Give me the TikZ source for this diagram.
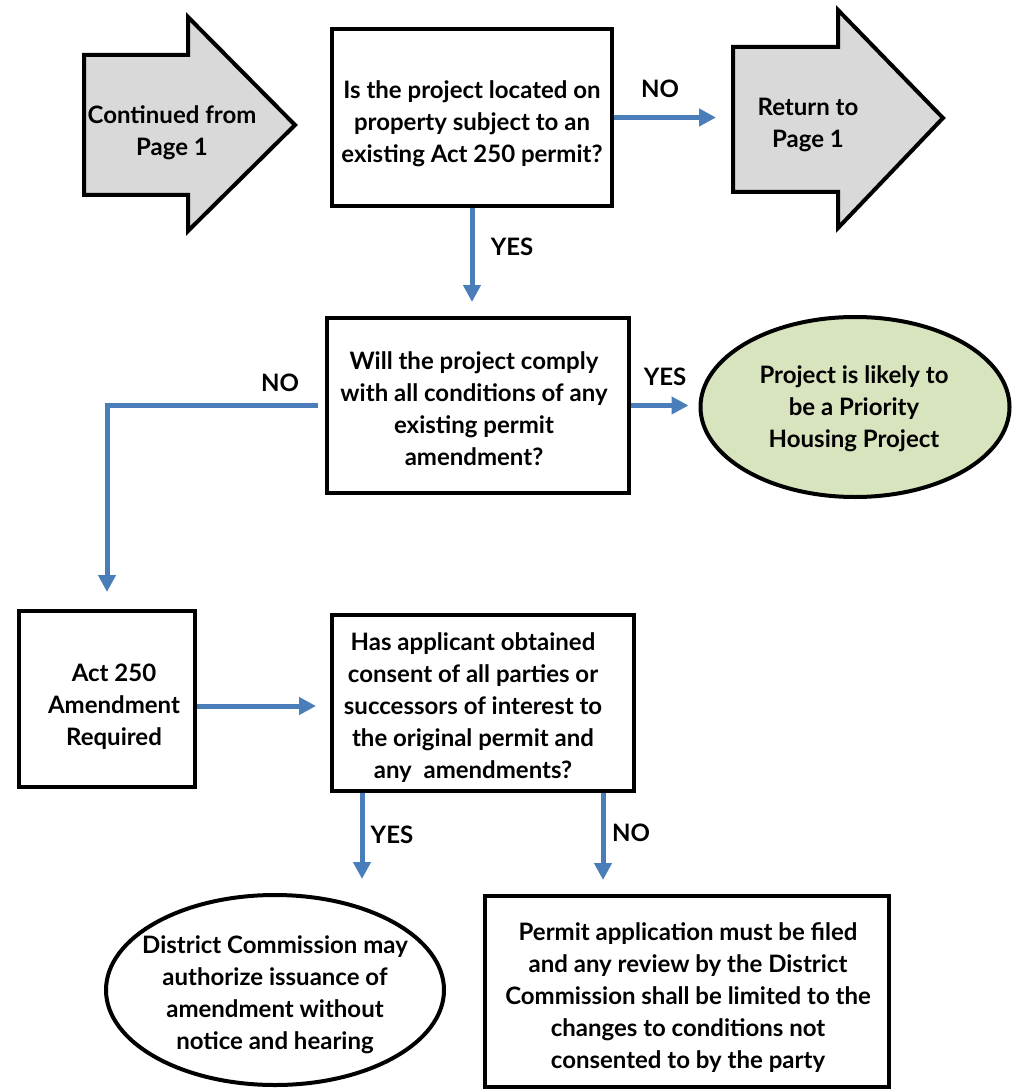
\documentclass[tikz,border=0pt]{standalone}
\usepackage{fontspec}
\setmainfont{Lato}
\usetikzlibrary{arrows.meta,shapes.geometric}
\definecolor{flowblue}{RGB}{74,126,187}
\definecolor{shapegray}{RGB}{217,217,217}
\definecolor{okgreen}{RGB}{215,228,189}
\tikzset{
  box/.style={draw=black, line width=4pt, fill=white, inner sep=0pt},
  oval/.style={ellipse, draw=black, line width=4pt, inner sep=0pt},
  bigarrow/.style={draw=black, line width=4pt, fill=shapegray, line join=miter},
  txt/.style={align=center, inner sep=0pt, yshift=-2pt, font=\fontsize{24}{32}\selectfont\bfseries},
  lbl/.style={inner sep=0pt, yshift=-1pt, font=\fontsize{24}{26}\selectfont\bfseries},
  flow/.style={draw=flowblue, line width=5pt, -{Triangle[length=17pt,width=17pt]}}
}
\begin{document}
\begin{tikzpicture}[x=1pt,y=-1pt]
\useasboundingbox (0,0) rectangle (1017,1091);
% big arrow shapes
\draw[bigarrow] (84,55) -- (188,55) -- (188,17) -- (295,125) -- (188,231) -- (188,195) -- (84,195) -- cycle;
\node[txt] (cont) at (172,131) {Continued from\\Page 1};
\draw[bigarrow] (733,47) -- (838,47) -- (838,10) -- (943,118) -- (838,228) -- (838,192) -- (733,192) -- cycle;
\coordinate (retw) at (731,117.5);
\node[txt] (ret) at (808,123) {Return to\\Page 1};
% boxes
\node[box, minimum width=280pt, minimum height=177pt] (b1) at (472,117.5) {};
\node[txt] (t1) at (472,122) {Is the project located on\\property subject to an\\existing Act 250 permit?};
\node[box, minimum width=302pt, minimum height=175pt] (b2) at (478,405.5) {};
\node[txt] (t2) at (474,407) {Will the project comply\\with all conditions of any\\existing permit\\amendment?};
\node[oval, fill=okgreen, minimum width=309pt, minimum height=180pt] (e1) at (855,407) {};
\node[txt] (t3) at (854,407) {Project is likely to\\be a Priority\\Housing Project};
\node[box, minimum width=176pt, minimum height=176pt] (b3) at (107,699) {};
\node[txt] (t4) at (114,705) {Act 250\\Amendment\\Required};
\node[box, minimum width=302pt, minimum height=176pt] (b4) at (483,703) {};
\node[txt] (t5) at (473,706) {Has applicant obtained\\consent of all parties or\\successors of interest to\\the original permit and\\any\ \ amendments?};
\node[oval, fill=white, minimum width=338pt, minimum height=190pt] (e2) at (275,990) {};
\node[txt] (t6) at (275,993) {District Commission may\\authorize issuance of\\amendment without\\notice and hearing};
\node[box, minimum width=404pt, minimum height=191pt] (b5) at (687,991.5) {};
\node[txt] (t7) at (688,996) {Permit application must be filed\\and any review by the District\\Commission shall be limited to the\\changes to conditions not\\consented to by the party};
% connectors
\draw[flow, shorten >=15pt] (b1.east) -- (retw);
\node[lbl] (l1) at (660,88) {NO};
\draw[flow, shorten >=14pt] (b1.south) -- (b1.south |- b2.north);
\node[lbl] (l2) at (512,246) {YES};
\draw[flow, shorten >=10pt] (b2.east) -- (b2.east -| e1.west);
\node[lbl] (l3) at (665,376) {YES};
\draw[flow, shorten <=7pt, shorten >=17pt] (b2.west) -| (b3.north);
\node[lbl] (l4) at (280,382) {NO};
\draw[flow, shorten >=14pt] ([yshift=-7pt]b3.east) -- ([yshift=-7pt]b3.east -| b4.west);
\draw[flow, shorten >=14pt] ([xshift=-121pt]b4.south) -- ([xshift=-121pt]b4.south |- e2.north);
\node[lbl] (l5) at (392,834) {YES};
\draw[flow, shorten >=14pt] ([xshift=120pt]b4.south) -- ([xshift=120pt]b4.south |- b5.north);
\node[lbl] (l6) at (631,832) {NO};
\end{tikzpicture}
\end{document}
